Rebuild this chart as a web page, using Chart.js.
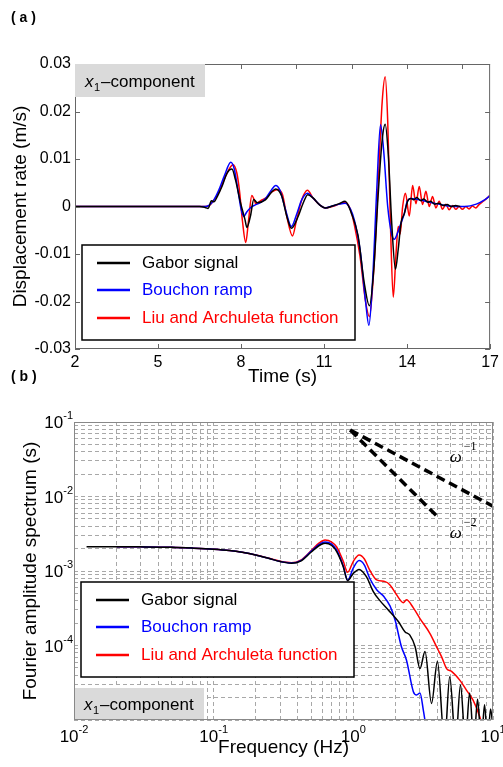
<!DOCTYPE html>
<html>
<head>
<meta charset="utf-8">
<script src="https://cdn.jsdelivr.net/npm/chart.js@4.4.1/dist/chart.umd.min.js"></script>
<style>
  html, body { margin: 0; padding: 0; background: #fff; }
  body { width: 503px; height: 767px; position: relative; overflow: hidden; }
  #wrapA { position: absolute; left: 0; top: 0; width: 503px; height: 390px; }
  #wrapB { position: absolute; left: 0; top: 360px; width: 503px; height: 407px; }
</style>
</head>
<body>
<div id="wrapA"><canvas id="chartA"></canvas></div>
<div id="wrapB"><canvas id="chartB"></canvas></div>
<script>
// ---- panel (a): displacement rate vs time ----
const timeTicks = [2, 5, 8, 11, 14, 17];
const timeTopTicks = [2, 4, 6, 8, 10, 12, 14, 16];
const rateTicks = [-0.03, -0.02, -0.01, 0, 0.01, 0.02, 0.03];

const seriesNames = ['Gabor signal', 'Bouchon ramp', 'Liu and Archuleta function'];
const seriesColors = ['#000000', '#0000ff', '#ff0000'];

const gaborT = [2, 6.5, 6.7, 6.81, 6.93, 7.02, 7.15, 7.31, 7.5, 7.67, 7.8, 7.98, 8.14, 8.21, 8.34, 8.46, 8.58, 8.88, 9.1, 9.25,
  9.47, 9.65, 9.82, 10.07, 10.25, 10.41, 10.6, 10.85, 11.04, 11.3, 11.55, 11.76, 11.98, 12.23, 12.45, 12.64, 12.8, 12.95, 13.1, 13.21,
  13.32, 13.45, 13.58, 13.68, 13.78, 13.9, 14.02, 14.14, 14.25, 14.35, 14.5, 14.6, 14.75, 14.85, 15.0, 15.15, 15.3, 15.45, 15.6, 15.75, 15.92];
const gaborV = [0, 0, -0.0002, -0.0004, 0.0012, 0.001, 0.0022, 0.0042, 0.0071, 0.0079, 0.0056, 0.0008, -0.0027, -0.0044, -0.002, 0.0015, 0.0008, 0.0014, 0.003, 0.0037,
  0.0022, -0.002, -0.0046, -0.002, 0.0008, 0.0025, 0.0018, 0.0003, -0.0003, 0.0001, 0.0006, 0.0011, -0.0013, -0.0062, -0.016, -0.0209, -0.013, 0.002, 0.014, 0.0173,
  0.011, -0.004, -0.0132, -0.009, -0.0035, -0.0015, 0.0011, 0.0017, 0.0014, 0.0019, 0.0012, 0.0016, 0.0009, 0.0011, 0.0005, 0.0007, 0.0002, 0.0004, 0.0, 0.0002, 0.0];

const bouchonT = [2, 6.5, 6.7, 6.85, 7.0, 7.2, 7.4, 7.63, 7.75, 7.9, 8.0, 8.1, 8.2, 8.35, 8.5, 8.7, 8.9, 9.1, 9.25, 9.4,
  9.6, 9.82, 10.0, 10.2, 10.4, 10.6, 10.85, 11.04, 11.3, 11.55, 11.76, 11.95, 12.1, 12.3, 12.5, 12.62, 12.75, 12.9, 13.04, 13.15,
  13.3, 13.45, 13.54, 13.66, 13.78, 13.9, 14.0, 14.14, 14.3, 14.6, 14.9, 15.3, 15.7, 16.1, 16.5, 16.8, 17];
const bouchonV = [0, 0, 0, 0.0003, 0.0012, 0.0035, 0.0065, 0.0093, 0.008, 0.003, -0.0005, -0.0021, -0.0012, -0.0002, 0.0003, 0.0008, 0.0018, 0.0035, 0.0044, 0.0035,
  -0.0005, -0.0042, -0.0018, 0.0015, 0.0028, 0.0018, 0.0003, -0.0003, 0.0001, 0.0005, 0.0007, -0.0005, -0.003, -0.009, -0.02, -0.025, -0.016, 0.003, 0.0172, 0.012,
  0.0, -0.006, -0.0069, -0.0055, -0.0035, -0.0015, 0.001, 0.0017, 0.0016, 0.0012, 0.0008, 0.0003, 0.0, 0.0, 0.0005, 0.0014, 0.0023];

const liuT = [2, 6.5, 6.7, 6.85, 7.0, 7.2, 7.45, 7.71, 7.85, 7.95, 8.05, 8.17, 8.27, 8.39, 8.47, 8.53, 8.7, 8.9, 9.1, 9.32,
  9.5, 9.65, 9.86, 10.0, 10.2, 10.4, 10.6, 10.85, 11.04, 11.3, 11.55, 11.76, 11.95, 12.1, 12.3, 12.5, 12.64, 12.8, 12.95, 13.1,
  13.21, 13.3, 13.4, 13.5, 13.6, 13.68, 13.75, 13.84, 13.94, 14.08, 14.2, 14.32, 14.44, 14.56, 14.68, 14.8, 14.92, 15.04, 15.16, 15.28,
  15.4, 15.52, 15.64, 15.76, 15.88, 16.0, 16.12, 16.24, 16.36, 16.48, 16.6, 16.75, 16.88, 17];
const liuV = [0, 0, 0, 0.0002, 0.0012, 0.003, 0.0065, 0.0088, 0.007, 0.003, -0.003, -0.0076, -0.003, 0.0023, 0.0015, 0.0006, 0.0012, 0.0018, 0.003, 0.0036,
  0.0025, -0.002, -0.0062, -0.003, 0.0015, 0.0034, 0.0018, 0.0003, -0.0003, 0.0, 0.0005, 0.0009, -0.0006, -0.004, -0.0105, -0.02, -0.0232, -0.013, 0.004, 0.022,
  0.0273, 0.018, -0.004, -0.0191, -0.01, -0.0042, -0.0058, 0.0, 0.0028, -0.002, 0.0044, 0.0006, 0.0042, 0.0004, 0.0032, 0.0, 0.0021, -0.0003, 0.0011, -0.0006,
  0.0005, -0.0007, 0.0002, -0.0006, 0.0, -0.0006, 0.0, -0.0005, 0.0001, -0.0003, 0.0004, 0.0011, 0.0017, 0.0024];

// ---- panel (b): Fourier amplitude spectrum ----
const freqTicks = [0.01, 0.1, 1, 10];
const ampTicks = [1e-4, 1e-3, 1e-2, 1e-1];

const gaborF = [0.0123, 0.02, 0.03, 0.05, 0.07, 0.1, 0.13, 0.16, 0.2, 0.25, 0.3, 0.36, 0.42, 0.5, 0.57, 0.627, 0.7, 0.76, 0.847, 0.91,
  1.0, 1.1, 1.24, 1.39, 1.55, 1.78, 2.1, 2.34, 2.54, 2.77, 3.0, 3.26, 3.63, 4.0, 4.5, 4.9, 5.4, 5.85, 6.35, 6.8, 7.3, 7.75, 8.25, 8.7, 9.15, 9.6, 10];
const gaborA = [2.12e-3, 2.12e-3, 2.11e-3, 2.08e-3, 2.03e-3, 1.96e-3, 1.88e-3, 1.78e-3, 1.64e-3, 1.47e-3, 1.34e-3, 1.27e-3, 1.36e-3, 1.8e-3, 2.2e-3, 2.36e-3, 2.2e-3, 1.82e-3, 1.14e-3, 7.4e-4,
  9.3e-4, 1.05e-3, 8.4e-4, 5.3e-4, 4.0e-4, 3.0e-4, 2.1e-4, 1.53e-4, 1.38e-4, 9.6e-5, 4.9e-5, 8.3e-5, 1.67e-5, 6.1e-5, 5e-6, 3.8e-5, 5e-6, 2.95e-5, 5e-6, 2.3e-5, 5e-6, 1.9e-5, 5e-6, 1.6e-5, 5e-6, 1.4e-5, 8e-6];

const bouchonF = [0.0202, 0.03, 0.05, 0.07, 0.1, 0.13, 0.16, 0.2, 0.25, 0.3, 0.36, 0.42, 0.5, 0.57, 0.627, 0.7, 0.76, 0.847, 0.91,
  1.0, 1.1, 1.2, 1.31, 1.47, 1.66, 1.83, 1.99, 2.21, 2.4, 2.69, 2.84, 3.0, 3.17, 3.35];
const bouchonA = [2.12e-3, 2.11e-3, 2.08e-3, 2.03e-3, 1.96e-3, 1.88e-3, 1.78e-3, 1.64e-3, 1.47e-3, 1.34e-3, 1.28e-3, 1.38e-3, 1.85e-3, 2.28e-3, 2.45e-3, 2.3e-3, 1.9e-3, 1.17e-3, 7.5e-4,
  1.1e-3, 1.38e-3, 1.2e-3, 8.0e-4, 5.6e-4, 4.5e-4, 3.4e-4, 2.2e-4, 9.6e-5, 6.4e-5, 2.4e-5, 2.17e-5, 2.3e-5, 1.36e-5, 7e-6];

const liuF = [0.0202, 0.03, 0.05, 0.07, 0.1, 0.13, 0.16, 0.2, 0.25, 0.3, 0.36, 0.42, 0.5, 0.57, 0.627, 0.7, 0.76, 0.847, 0.91, 1.0,
  1.1, 1.2, 1.31, 1.47, 1.69, 1.83, 2.04, 2.28, 2.4, 2.69, 3.0, 3.53, 4.05, 4.28, 4.65, 5.05, 5.8, 6.47, 7.2, 8.05, 8.6, 9.2];
const liuA = [2.12e-3, 2.11e-3, 2.08e-3, 2.03e-3, 1.96e-3, 1.88e-3, 1.78e-3, 1.64e-3, 1.48e-3, 1.35e-3, 1.29e-3, 1.4e-3, 1.88e-3, 2.38e-3, 2.6e-3, 2.45e-3, 2.1e-3, 1.35e-3, 9.6e-4, 1.35e-3,
  1.64e-3, 1.45e-3, 1.03e-3, 7.6e-4, 7.2e-4, 6.5e-4, 4.8e-4, 3.76e-4, 4.1e-4, 3.2e-4, 2.3e-4, 1.46e-4, 8.7e-5, 7.1e-5, 4.9e-5, 4.5e-5, 3.4e-5, 2.5e-5, 1.85e-5, 1.1e-5, 7e-6, 5e-6];

// reference slopes drawn as thick dashed lines
const slopeOneF = [0.95, 10];
const slopeOneA = [0.078, 0.0074];
const slopeTwoF = [0.95, 3.95];
const slopeTwoA = [0.078, 0.0055];

const FONT = '"Liberation Sans", Arial, Helvetica, sans-serif';
const SERIF = '"Liberation Serif", "Times New Roman", serif';

const pts = (xs, ys) => xs.map((v, i) => ({x: v, y: ys[i]}));

// 1..9 x 10^k positions for the dashed log grid
function logGrid(lo, hi) {
  const out = [];
  for (let e = Math.round(Math.log10(lo)); e < Math.round(Math.log10(hi)); e++) {
    for (let m = 1; m < 10; m++) out.push(m * Math.pow(10, e));
  }
  out.push(hi);
  return out;
}

function lineSet(label, data, color) {
  return {label: label, data: data, borderColor: color, backgroundColor: color, borderWidth: 1.5,
    pointRadius: 0, fill: false, cubicInterpolationMode: 'monotone'};
}

function drawComponentTag(ctx, left, top, h) {
  ctx.fillStyle = '#dadada';
  ctx.fillRect(left, top, 130, h);
  const base = top + h / 2 + 6;
  ctx.fillStyle = '#000';
  ctx.textAlign = 'left';
  ctx.textBaseline = 'alphabetic';
  ctx.font = 'italic 17px ' + FONT;
  ctx.fillText('x', left + 10, base);
  let xx = left + 10 + ctx.measureText('x').width;
  ctx.font = '11px ' + FONT;
  ctx.fillText('1', xx + 0.5, base + 4);
  xx += ctx.measureText('1').width + 1.5;
  ctx.font = '17px ' + FONT;
  ctx.fillText('\u2013component', xx, base);
}

function drawSeriesLegend(ctx, chart, left, top) {
  const w = 273, h = 95;
  const rows = [18, 45, 73];
  ctx.fillStyle = '#fff';
  ctx.fillRect(left, top, w, h);
  ctx.strokeStyle = '#000';
  ctx.lineWidth = 1.5;
  ctx.strokeRect(left, top, w, h);
  chart.data.datasets.slice(0, 3).forEach((ds, i) => {
    const y = top + rows[i];
    ctx.strokeStyle = ds.borderColor;
    ctx.lineWidth = 2.5;
    ctx.beginPath();
    ctx.moveTo(left + 15, y);
    ctx.lineTo(left + 48, y);
    ctx.stroke();
    ctx.fillStyle = ds.borderColor;
    ctx.font = '17px ' + FONT;
    ctx.textAlign = 'left';
    ctx.textBaseline = 'middle';
    ctx.fillText(ds.label, left + 60, y);
  });
}

function drawPanelTag(ctx, text, y) {
  ctx.fillStyle = '#000';
  ctx.font = 'bold 14px ' + FONT;
  ctx.textAlign = 'left';
  ctx.textBaseline = 'middle';
  ctx.fillText(text, 11, y);
}

const panelA = {
  id: 'panelA',
  afterDatasetsDraw(chart) {
    const {ctx, chartArea: ca, scales: {x, y}} = chart;
    ctx.save();
    ctx.strokeStyle = '#666';
    ctx.lineWidth = 1;
    ctx.strokeRect(ca.left + 0.5, ca.top + 0.5, ca.width - 1, ca.height - 1);
    ctx.beginPath();
    timeTicks.forEach(t => {
      const px = Math.round(x.getPixelForValue(t)) + 0.5;
      ctx.moveTo(px, ca.bottom); ctx.lineTo(px, ca.bottom - 5);
    });
    timeTopTicks.forEach(t => {
      const px = Math.round(x.getPixelForValue(t)) + 0.5;
      ctx.moveTo(px, ca.top); ctx.lineTo(px, ca.top + 5);
    });
    rateTicks.forEach(v => {
      const py = Math.round(y.getPixelForValue(v)) + 0.5;
      ctx.moveTo(ca.left, py); ctx.lineTo(ca.left + 5, py);
      ctx.moveTo(ca.right, py); ctx.lineTo(ca.right - 5, py);
    });
    ctx.stroke();
    drawComponentTag(ctx, ca.left, ca.top, 33);
    drawSeriesLegend(ctx, chart, ca.left + 7, ca.top + 181);
    drawPanelTag(ctx, '( a )', 18);
    ctx.restore();
  }
};

function drawPow(ctx, exp, x, baseY, align) {
  const big = '17px ' + FONT, small = '11px ' + FONT;
  ctx.font = big;
  const w1 = ctx.measureText('10').width;
  ctx.font = small;
  const w2 = ctx.measureText(exp).width;
  const left = align === 'center' ? x - (w1 + w2) / 2 : x - w1 - w2;
  ctx.textAlign = 'left';
  ctx.textBaseline = 'alphabetic';
  ctx.fillStyle = '#000';
  ctx.font = big;
  ctx.fillText('10', left, baseY);
  ctx.font = small;
  ctx.fillText(exp, left + w1, baseY - 9);
}

function drawOmega(ctx, exp, x, baseY) {
  ctx.fillStyle = '#000';
  ctx.textAlign = 'left';
  ctx.textBaseline = 'alphabetic';
  ctx.font = 'italic 17px ' + SERIF;
  ctx.fillText('\u03c9', x, baseY);
  ctx.font = '12px ' + SERIF;
  ctx.fillText(exp, x + 14, baseY - 12);
}

const panelB = {
  id: 'panelB',
  afterDatasetsDraw(chart) {
    const {ctx, chartArea: ca, scales: {x, y}} = chart;
    ctx.save();
    drawComponentTag(ctx, ca.left, ca.bottom - 32, 32);
    drawSeriesLegend(ctx, chart, ca.left + 7, ca.top + 160);
    ctx.strokeStyle = '#888';
    ctx.lineWidth = 1;
    ctx.strokeRect(ca.left + 0.5, ca.top + 0.5, ca.width - 1, ca.height - 1);
    freqTicks.forEach(f => {
      drawPow(ctx, String(Math.round(Math.log10(f))), x.getPixelForValue(f), ca.bottom + 22, 'center');
    });
    ampTicks.forEach(a => {
      drawPow(ctx, String(Math.round(Math.log10(a))), ca.left - 1, y.getPixelForValue(a) + 6, 'right');
    });
    drawOmega(ctx, '\u22121', x.getPixelForValue(4.9), y.getPixelForValue(0.029));
    drawOmega(ctx, '\u22122', x.getPixelForValue(4.9), y.getPixelForValue(0.00277));
    drawPanelTag(ctx, '( b )', 17);
    ctx.restore();
  }
};

const axisTitleFont = {family: FONT, size: 19, lineHeight: 1.2};

new Chart(document.getElementById('chartA'), {
  type: 'line',
  data: {
    datasets: [
      lineSet(seriesNames[0], pts(gaborT, gaborV), seriesColors[0]),
      lineSet(seriesNames[1], pts(bouchonT, bouchonV), seriesColors[1]),
      lineSet(seriesNames[2], pts(liuT, liuV), seriesColors[2])
    ]
  },
  options: {
    responsive: true,
    maintainAspectRatio: false,
    animation: false,
    events: [],
    layout: {padding: {left: 0, top: 64, right: 10, bottom: 0}},
    plugins: {legend: {display: false}, tooltip: {enabled: false}},
    scales: {
      x: {
        type: 'linear', min: 2, max: 17,
        afterBuildTicks: s => { s.ticks = timeTicks.map(v => ({value: v})); },
        afterFit: s => { s.height = 41; },
        grid: {display: false, drawTicks: false},
        border: {display: false},
        ticks: {color: '#000', font: {family: FONT, size: 16}, padding: 4, maxRotation: 0, autoSkip: false},
        title: {display: true, text: 'Time (s)', color: '#000', font: axisTitleFont, padding: {top: 0, bottom: 2}}
      },
      y: {
        type: 'linear', min: -0.03, max: 0.03,
        afterBuildTicks: s => { s.ticks = rateTicks.map(v => ({value: v})); },
        afterFit: s => { s.width = 75; },
        grid: {display: false, drawTicks: false},
        border: {display: false},
        ticks: {color: '#000', font: {family: FONT, size: 16}, padding: 4, autoSkip: false,
          callback: v => (v === 0 ? '0' : String(v))},
        title: {display: true, text: 'Displacement rate (m/s)', color: '#000', font: axisTitleFont, padding: {top: 9, bottom: 0}}
      }
    }
  },
  plugins: [panelA]
});

new Chart(document.getElementById('chartB'), {
  type: 'line',
  data: {
    datasets: [
      lineSet(seriesNames[0], pts(gaborF, gaborA), seriesColors[0]),
      lineSet(seriesNames[1], pts(bouchonF, bouchonA), seriesColors[1]),
      lineSet(seriesNames[2], pts(liuF, liuA), seriesColors[2]),
      {label: 'omega^-1', data: pts(slopeOneF, slopeOneA), borderColor: '#000', borderWidth: 3.5,
        borderDash: [9, 5], pointRadius: 0, fill: false},
      {label: 'omega^-2', data: pts(slopeTwoF, slopeTwoA), borderColor: '#000', borderWidth: 3.5,
        borderDash: [9, 5], pointRadius: 0, fill: false}
    ]
  },
  options: {
    responsive: true,
    maintainAspectRatio: false,
    animation: false,
    events: [],
    layout: {padding: {left: 0, top: 62, right: 10, bottom: 0}},
    plugins: {legend: {display: false}, tooltip: {enabled: false}},
    scales: {
      x: {
        type: 'logarithmic', min: 0.01, max: 10,
        afterBuildTicks: s => { s.ticks = logGrid(0.01, 10).map(v => ({value: v})); },
        afterFit: s => { s.height = 47; },
        grid: {color: '#a8a8a8', lineWidth: 1, drawTicks: false},
        border: {display: false, dash: [4, 3]},
        ticks: {display: false, autoSkip: false},
        title: {display: true, text: 'Frequency (Hz)', color: '#000', font: axisTitleFont, padding: {top: 0, bottom: 8}}
      },
      y: {
        type: 'logarithmic', min: 1e-5, max: 1e-1,
        afterBuildTicks: s => { s.ticks = logGrid(1e-5, 1e-1).map(v => ({value: v})); },
        afterFit: s => { s.width = 74; },
        grid: {color: '#a8a8a8', lineWidth: 1, drawTicks: false},
        border: {display: false, dash: [4, 3]},
        ticks: {display: false, autoSkip: false},
        title: {display: true, text: 'Fourier amplitude spectrum (s)', color: '#000', font: axisTitleFont, padding: {top: 19, bottom: 0}}
      }
    }
  },
  plugins: [panelB]
});
</script>
</body>
</html>
